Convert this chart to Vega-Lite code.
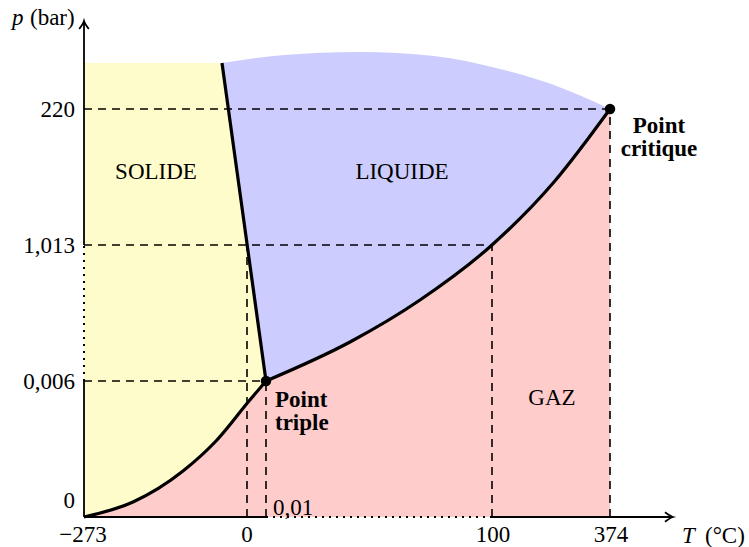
{
  "$schema": "https://vega.github.io/schema/vega-lite/v6.json",
  "width": 749,
  "height": 547,
  "autosize": "none",
  "padding": 0,
  "background": "white",
  "config": {"view": {"stroke": null}, "text": {"font": "Liberation Serif", "fontSize": 23, "baseline": "alphabetic"}},
  "datasets": {
    "blue": [
      {"x": 138, "y": 454}, {"x": 200, "y": 462}, {"x": 276, "y": 465}, {"x": 350, "y": 461},
      {"x": 416, "y": 448}, {"x": 470, "y": 432}, {"x": 526, "y": 408}
    ],
    "yellow": [{"x": 0, "y": 454}, {"x": 138, "y": 454}, {"x": 182, "y": 136}],
    "curves": [
      {"curve": "sublimation", "x": 0, "y": 0}, {"curve": "sublimation", "x": 49, "y": 15},
      {"curve": "sublimation", "x": 99, "y": 46}, {"curve": "sublimation", "x": 132, "y": 76},
      {"curve": "sublimation", "x": 165, "y": 116}, {"curve": "sublimation", "x": 182, "y": 136},
      {"curve": "vaporisation", "x": 182, "y": 136}, {"curve": "vaporisation", "x": 266, "y": 175},
      {"curve": "vaporisation", "x": 336, "y": 217}, {"curve": "vaporisation", "x": 408, "y": 272},
      {"curve": "vaporisation", "x": 470, "y": 335}, {"curve": "vaporisation", "x": 526, "y": 408},
      {"curve": "fusion", "x": 138, "y": 454}, {"curve": "fusion", "x": 182, "y": 136}
    ],
    "dashes": [
      {"x": 0, "y": 408, "x2": 526, "y2": 408},
      {"x": 0, "y": 272, "x2": 408, "y2": 272},
      {"x": 0, "y": 136, "x2": 182, "y2": 136},
      {"x": 163, "y": 0, "x2": 163, "y2": 272},
      {"x": 182, "y": 0, "x2": 182, "y2": 136},
      {"x": 408, "y": 0, "x2": 408, "y2": 272},
      {"x": 526, "y": 0, "x2": 526, "y2": 408}
    ],
    "axisSolid": [
      {"x": 0, "y": 0, "x2": 182, "y2": 0},
      {"x": 408, "y": 0, "x2": 587, "y2": 0},
      {"x": 0, "y": 0, "x2": 0, "y2": 136},
      {"x": 0, "y": 272, "x2": 0, "y2": 494}
    ],
    "axisDotted": [
      {"x": 182, "y": 0, "x2": 408, "y2": 0},
      {"x": 0, "y": 136, "x2": 0, "y2": 272}
    ],
    "arrows": [{"axis": "T", "x": 589, "y": 0}, {"axis": "p", "x": 0, "y": 496}],
    "points": [{"name": "triple", "x": 182, "y": 136}, {"name": "critique", "x": 526, "y": 408}]
  },
  "encoding": {
    "x": {"field": "x", "type": "quantitative", "scale": {"domain": [-84, 665], "nice": false, "zero": false}, "axis": null},
    "y": {"field": "y", "type": "quantitative", "scale": {"domain": [-30, 517], "nice": false, "zero": false}, "axis": null}
  },
  "layer": [
    {"data": {"name": "blue"}, "mark": {"type": "area", "color": "#CCCCFF", "interpolate": "monotone"}, "encoding": {"y2": {"datum": 0}}},
    {"data": {"name": "yellow"}, "mark": {"type": "area", "color": "#FEFCCB"}, "encoding": {"y2": {"datum": 0}}},
    {"data": {"name": "curves"}, "transform": [{"filter": "datum.curve !== 'fusion'"}],
     "mark": {"type": "area", "color": "#FFCCCC", "interpolate": "monotone"},
     "encoding": {"detail": {"field": "curve"}, "y": {"field": "y", "type": "quantitative", "stack": null}, "y2": {"datum": 0}}},
    {"data": {"name": "dashes"}, "mark": {"type": "rule", "color": "black", "strokeWidth": 1.6, "strokeDash": [8, 6]},
     "encoding": {"x2": {"field": "x2"}, "y2": {"field": "y2"}}},
    {"data": {"name": "axisSolid"}, "mark": {"type": "rule", "color": "black", "strokeWidth": 1.8},
     "encoding": {"x2": {"field": "x2"}, "y2": {"field": "y2"}}},
    {"data": {"name": "axisDotted"}, "mark": {"type": "rule", "color": "black", "strokeWidth": 2, "strokeDash": [2, 5]},
     "encoding": {"x2": {"field": "x2"}, "y2": {"field": "y2"}}},
    {"data": {"name": "curves"}, "mark": {"type": "line", "color": "black", "strokeWidth": 3.2, "interpolate": "monotone"},
     "encoding": {"detail": {"field": "curve"}}},
    {"data": {"name": "arrows"}, "transform": [{"filter": "datum.axis === 'T'"}],
     "mark": {"type": "point", "shape": "M -1 -0.6 Q -0.35 -0.1 0 0 Q -0.35 0.1 -1 0.6", "filled": false, "stroke": "black", "strokeWidth": 1.8, "size": 256, "opacity": 1}},
    {"data": {"name": "arrows"}, "transform": [{"filter": "datum.axis === 'p'"}],
     "mark": {"type": "point", "shape": "M -1 -0.6 Q -0.35 -0.1 0 0 Q -0.35 0.1 -1 0.6", "filled": false, "stroke": "black", "strokeWidth": 1.8, "size": 256, "angle": 270, "opacity": 1}},
    {"data": {"name": "points"}, "mark": {"type": "point", "shape": "circle", "filled": true, "color": "black", "size": 110, "opacity": 1}},
    {"data": {"values": [{"t": "SOLIDE", "x": 72, "y": 338}, {"t": "LIQUIDE", "x": 318, "y": 338}, {"t": "GAZ", "x": 468, "y": 112}]},
     "mark": {"type": "text", "align": "center"}, "encoding": {"text": {"field": "t"}}},
    {"data": {"values": [{"t": "Point", "x": 191, "y": 110}, {"t": "triple", "x": 191, "y": 87}]},
     "mark": {"type": "text", "align": "left", "fontWeight": "bold"}, "encoding": {"text": {"field": "t"}}},
    {"data": {"values": [{"t": "Point", "x": 575, "y": 384}, {"t": "critique", "x": 575, "y": 361}]},
     "mark": {"type": "text", "align": "center", "fontWeight": "bold"}, "encoding": {"text": {"field": "t"}}},
    {"data": {"values": [{"t": "−273", "x": -1, "y": -25}, {"t": "0", "x": 163, "y": -25}, {"t": "100", "x": 409, "y": -25}, {"t": "374", "x": 527, "y": -25}]},
     "mark": {"type": "text", "align": "center"}, "encoding": {"text": {"field": "t"}}},
    {"data": {"values": [{"t": "220", "x": -9, "y": 400}, {"t": "1,013", "x": -9, "y": 264}, {"t": "0,006", "x": -9, "y": 128}, {"t": "0", "x": -9, "y": 9}]},
     "mark": {"type": "text", "align": "right"}, "encoding": {"text": {"field": "t"}}},
    {"data": {"values": [{"t": "0,01", "x": 189, "y": 2}, {"t": "(bar)", "x": -54, "y": 492}, {"t": "(°C)", "x": 621, "y": -26}]},
     "mark": {"type": "text", "align": "left"}, "encoding": {"text": {"field": "t"}}},
    {"data": {"values": [{"t": "p", "x": -72, "y": 492}, {"t": "T", "x": 598, "y": -26}]},
     "mark": {"type": "text", "align": "left", "fontStyle": "italic"}, "encoding": {"text": {"field": "t"}}}
  ]
}
